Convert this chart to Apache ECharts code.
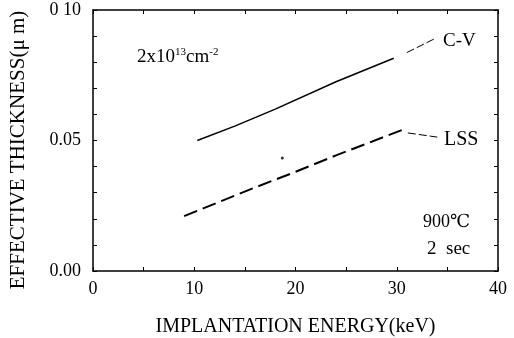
<!DOCTYPE html>
<html>
<head>
<meta charset="utf-8">
<script src="https://cdn.jsdelivr.net/npm/echarts@6/dist/echarts.min.js"></script>
<style>
  html, body { margin: 0; padding: 0; background: #fff; }
  #chart { width: 514px; height: 338px; }
</style>
</head>
<body>
<div id="chart"></div>
<script>
// C-V measured (solid)
const cvEnergy = [10.3, 14, 18, 24, 29.7];
const cvThick = [0.050, 0.0555, 0.062, 0.0725, 0.0815];
// LSS calculated (dashed)
const lssEnergy = [9, 16, 20, 24, 30.5];
const lssThick = [0.021, 0.032, 0.038, 0.0443, 0.054];
// leader lines to the labels
const cvLeader = [[31.0, 0.0837], [33.9, 0.0893]];
const lssLeader = [[31.1, 0.0529], [34.0, 0.0513]];
// stray dot
const strayDot = [[18.7, 0.0433]];

const xTicks = [0, 10, 20, 30, 40];
const yTickLabels = { '0': '0.00', '0.05': '0.05', '0.1': '0 10' };

const font = '"Liberation Serif", "DejaVu Serif", serif';
const chart = echarts.init(document.getElementById('chart'));

const zip = (xs, ys) => xs.map((x, i) => [x, ys[i]]);

const axisBase = {
  type: 'value',
  axisLine: { show: true, onZero: false, lineStyle: { color: '#000', width: 1.5 } },
  axisTick: { show: true, inside: true, length: 4, lineStyle: { color: '#000' } },
  splitLine: { show: false }
};

const option = {
  animation: false,
  grid: { left: 93, right: 16, top: 10, bottom: 67, outerBoundsMode: 'none', containLabel: false },
  xAxis: [
    Object.assign({}, axisBase, {
      min: 0, max: 40, interval: 5, position: 'bottom',
      name: 'IMPLANTATION ENERGY(keV)', nameLocation: 'middle', nameGap: 46,
      nameTextStyle: { fontFamily: font, fontSize: 20, color: '#000' },
      axisLabel: {
        fontFamily: font, fontSize: 18, color: '#000', margin: 9,
        formatter: v => (xTicks.indexOf(v) >= 0 ? String(v) : '')
      }
    }),
    Object.assign({}, axisBase, {
      min: 0, max: 40, interval: 5, position: 'top',
      axisLabel: { show: false }
    })
  ],
  yAxis: [
    Object.assign({}, axisBase, {
      min: 0, max: 0.1, interval: 0.01, position: 'left',
      axisLabel: {
        fontFamily: font, fontSize: 18, color: '#000', margin: 12,
        formatter: v => yTickLabels[String(+v.toFixed(2))] || ''
      }
    }),
    Object.assign({}, axisBase, {
      min: 0, max: 0.1, interval: 0.01, position: 'right',
      axisLabel: { show: false }
    })
  ],
  series: [
    {
      type: 'line', data: zip(cvEnergy, cvThick), showSymbol: false,
      lineStyle: { color: '#000', width: 1.5 }
    },
    {
      type: 'line', data: zip(lssEnergy, lssThick), showSymbol: false,
      lineStyle: { color: '#000', width: 2, type: [14, 6] }
    },
    {
      type: 'line', data: cvLeader, showSymbol: false,
      lineStyle: { color: '#000', width: 1, type: [8, 3] }
    },
    {
      type: 'line', data: lssLeader, showSymbol: false,
      lineStyle: { color: '#000', width: 1, type: [8, 3] }
    },
    {
      type: 'scatter', data: strayDot, symbolSize: 3,
      itemStyle: { color: '#000' }
    }
  ],
  graphic: [
    {
      type: 'text', x: 18, y: 150, rotation: Math.PI / 2,
      style: { text: 'EFFECTIVE THICKNESS(\u03bc m)', font: '21px ' + font, fill: '#000',
        align: 'center', verticalAlign: 'middle' }
    },
    {
      type: 'text', left: 137, top: 47,
      style: { text: '2x10{s|13}cm{s|-2}', font: '19px ' + font, fill: '#000',
        rich: { s: { fontSize: 11, verticalAlign: 'top', padding: [0, 0, 9, 0], fontFamily: font } } }
    },
    { type: 'text', left: 443, top: 32, style: { text: 'C-V', font: '19px ' + font, fill: '#000' } },
    { type: 'text', left: 444, top: 130, style: { text: 'LSS', font: '20px ' + font, fill: '#000' } },
    { type: 'text', left: 423, top: 213, style: { text: '900\u2103', font: '18px ' + font, fill: '#000' } },
    { type: 'text', left: 427, top: 240, style: { text: '2  sec', font: '19px ' + font, fill: '#000' } }
  ]
};

chart.setOption(option);
</script>
</body>
</html>
